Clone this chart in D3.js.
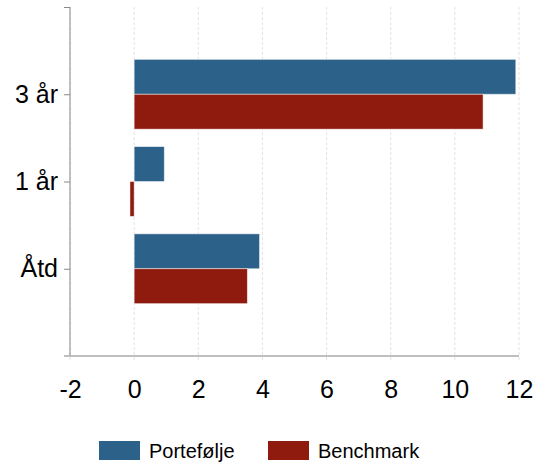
<!DOCTYPE html>
<html>
<head>
<meta charset="utf-8">
<script src="https://cdn.jsdelivr.net/npm/d3@7"></script>
<style>
  body { margin: 0; background: #fff; }
  text { font-family: "Liberation Sans", Arial, sans-serif; }
</style>
</head>
<body>
<div class="vis-barchart"></div>
<script>
// data
const categories = ["3 år", "1 år", "Åtd"];
const seriesNames = ["Portefølje", "Benchmark"];
const portfolio = [11.9, 0.94, 3.91];
const benchmark = [10.88, -0.13, 3.53];
const xTicks = [-2, 0, 2, 4, 6, 8, 10, 12];
const colors = ["#2c6189", "#8e1b0e"];

const chartWidth = 553;
const chartHeight = 466;
const margin = { top: 7, right: 34, bottom: 110, left: 70 };
const width = chartWidth - margin.left - margin.right;
const height = chartHeight - margin.top - margin.bottom;

const chart_data = categories.map(function(c, i) {
  return { category: c, values: [portfolio[i], benchmark[i]] };
});

const svg = d3.select(".vis-barchart").append("svg")
    .attr("width", chartWidth)
    .attr("height", chartHeight)
  .append("g")
    .attr("transform", "translate(" + margin.left + "," + margin.top + ")");

let x = d3.scaleLinear().domain([-2, 12]).range([0, width]);
// categories sit on whole positions 1..3 inside a 0..4 range
let y = d3.scaleLinear().domain([0, 4]).range([0, height]);
const step = y(1) - y(0);
const barH = step * 0.4;

// gridlines
svg.append("g")
    .selectAll("line")
    .data(xTicks)
    .enter().append("line")
    .attr("x1", function(d) { return x(d); })
    .attr("x2", function(d) { return x(d); })
    .attr("y1", 0)
    .attr("y2", height + 6)
    .attr("stroke", "#e3e3e3")
    .attr("stroke-dasharray", "3,2");

// bars
const groups = svg.selectAll(".group")
    .data(chart_data)
    .enter().append("g")
    .attr("transform", function(d, i) { return "translate(0," + y(i + 1) + ")"; });

groups.selectAll("rect")
    .data(function(d) { return d.values; })
    .enter().append("rect")
    .attr("fill", function(d, j) { return colors[j]; })
    .attr("stroke", "rgba(255,255,255,0.6)")
    .attr("stroke-width", 0.8)
    .attr("x", function(d) { return x(Math.min(0, d)); })
    .attr("width", function(d) { return Math.abs(x(d) - x(0)); })
    .attr("y", function(d, j) { return j === 0 ? -barH : 0; })
    .attr("height", barH);

// y axis
const yAxis = svg.append("g")
    .call(d3.axisLeft(y)
      .tickValues([0, 1, 2, 3])
      .tickSize(6)
      .tickFormat(function(d) { return d === 0 ? "" : categories[d - 1]; }));
yAxis.select(".domain").attr("stroke", "#888").attr("d", "M0,0V" + height);
yAxis.selectAll(".tick line").attr("stroke", "#888");
yAxis.selectAll(".tick text")
    .attr("font-size", 25)
    .attr("font-family", "Liberation Sans, Arial, sans-serif")
    .attr("fill", "#000")
    .attr("x", -12);

// x axis
const xAxis = svg.append("g")
    .attr("transform", "translate(0," + height + ")")
    .call(d3.axisBottom(x).tickValues(xTicks).tickSize(0).tickPadding(24)
      .tickFormat(function(d) { return String(d); }));
xAxis.select(".domain").attr("stroke", "#aaa").attr("stroke-width", 1.5)
    .attr("d", "M-6,0H" + width);
xAxis.selectAll(".tick text")
    .attr("font-size", 25)
    .attr("font-family", "Liberation Sans, Arial, sans-serif")
    .attr("fill", "#000");

// legend
const legend = svg.append("g")
    .attr("transform", "translate(" + (99 - margin.left) + "," + (441 - margin.top) + ")");
const legendX = [0, 169];
seriesNames.forEach(function(name, i) {
  legend.append("rect")
      .attr("x", legendX[i])
      .attr("width", 41)
      .attr("height", 19)
      .attr("fill", colors[i]);
  legend.append("text")
      .attr("x", legendX[i] + 50)
      .attr("y", 10)
      .attr("dy", "0.35em")
      .attr("font-size", 20)
      .attr("fill", "#000")
      .text(name);
});
</script>
</body>
</html>
